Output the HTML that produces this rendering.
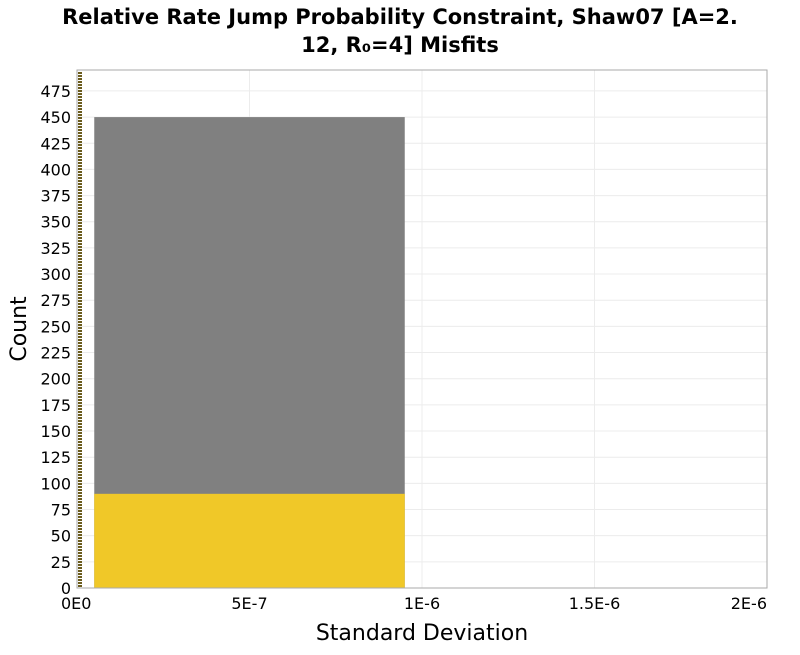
<!DOCTYPE html>
<html><head><meta charset="utf-8"><style>
body{margin:0;background:#fff;font-family:"Liberation Sans","DejaVu Sans",sans-serif}
svg text{font-family:"DejaVu Sans","Liberation Sans",sans-serif}
</style></head><body>
<svg id="chart" width="800" height="650" xmlns="http://www.w3.org/2000/svg">
<text x="400" y="24" text-anchor="middle" font-size="21" font-weight="bold" fill="#000">Relative Rate Jump Probability Constraint, Shaw07 [A=2.</text>
<text x="400" y="52" text-anchor="middle" font-size="21" font-weight="bold" fill="#000">12, R₀=4] Misfits</text>
<rect x="77" y="70" width="690" height="518" fill="#fff" stroke="#aaa"/>
<g id="grid"></g>
<g id="bars"></g>
<g id="axes"></g>
<text x="422" y="640" text-anchor="middle" font-size="22" fill="#000">Standard Deviation</text>
<text transform="translate(26,329) rotate(-90)" text-anchor="middle" font-size="22" fill="#000">Count</text>
</svg>
<script>
const xTicks=[0,5e-7,1e-6,1.5e-6,2e-6];
const xTickLabels=["0E0","5E-7","1E-6","1.5E-6","2E-6"];
const yTicks=[0,25,50,75,100,125,150,175,200,225,250,275,300,325,350,375,400,425,450,475];
const binStarts=[5e-8];
const binEnds=[9.5e-7];
const totalCounts=[450];
const misfitCounts=[90];
const X0=77,X1=767,Y0=588,Y1=70,XMAX=2e-6,YMAX=495;
const sx=v=>X0+(v/XMAX)*(X1-X0);
const sy=v=>Y0-(v/YMAX)*(Y0-Y1);
const NS="http://www.w3.org/2000/svg";
function mk(t,a,p){const e=document.createElementNS(NS,t);for(const k in a)e.setAttribute(k,a[k]);p.appendChild(e);return e;}
const grid=document.getElementById('grid'),bars=document.getElementById('bars'),axes=document.getElementById('axes');
yTicks.forEach(v=>{
 const l=mk('line',{x1:X0,x2:X1,y1:sy(v),y2:sy(v),stroke:'#ececec'},grid);
 
 
 const t=mk('text',{x:X0-6,y:sy(v)+6,'text-anchor':'end','font-size':'16',fill:'#000'},axes);
 t.textContent=v;
 
 
});
xTicks.forEach((v,i)=>{
 const l=mk('line',{x1:sx(v),x2:sx(v),y1:Y1,y2:Y0,stroke:'#ececec'},grid);
 
 
 const t=mk('text',{x:sx(v),y:Y0+21,'text-anchor':i==0?'start':(i==xTicks.length-1?'end':'middle'),'font-size':'16',fill:'#000'},axes);
 if(i==0)t.setAttribute('x',sx(v)-16);
 t.textContent=xTickLabels[i];
 
 
});
binStarts.forEach((b,i)=>{
 const g=mk('rect',{x:sx(b),y:sy(totalCounts[i]),width:sx(binEnds[i])-sx(b),height:sy(0)-sy(totalCounts[i]),fill:'#808080'},bars);
 
 
 const y=mk('rect',{x:sx(b),y:sy(misfitCounts[i]),width:sx(binEnds[i])-sx(b),height:sy(0)-sy(misfitCounts[i]),fill:'#f0c828'},bars);
 
 
});
// striped thin bars near zero
for(let yy=Y1+2;yy<Y0;yy+=3){
 const s=mk('rect',{x:78,y:yy,width:4,height:2,fill:'#6b5c1e'},bars);
 
 
}
const fr=mk('rect',{x:X0,y:Y1,width:X1-X0,height:Y0-Y1,fill:'none',stroke:'#aaa'},axes);


</script>
</body></html>
